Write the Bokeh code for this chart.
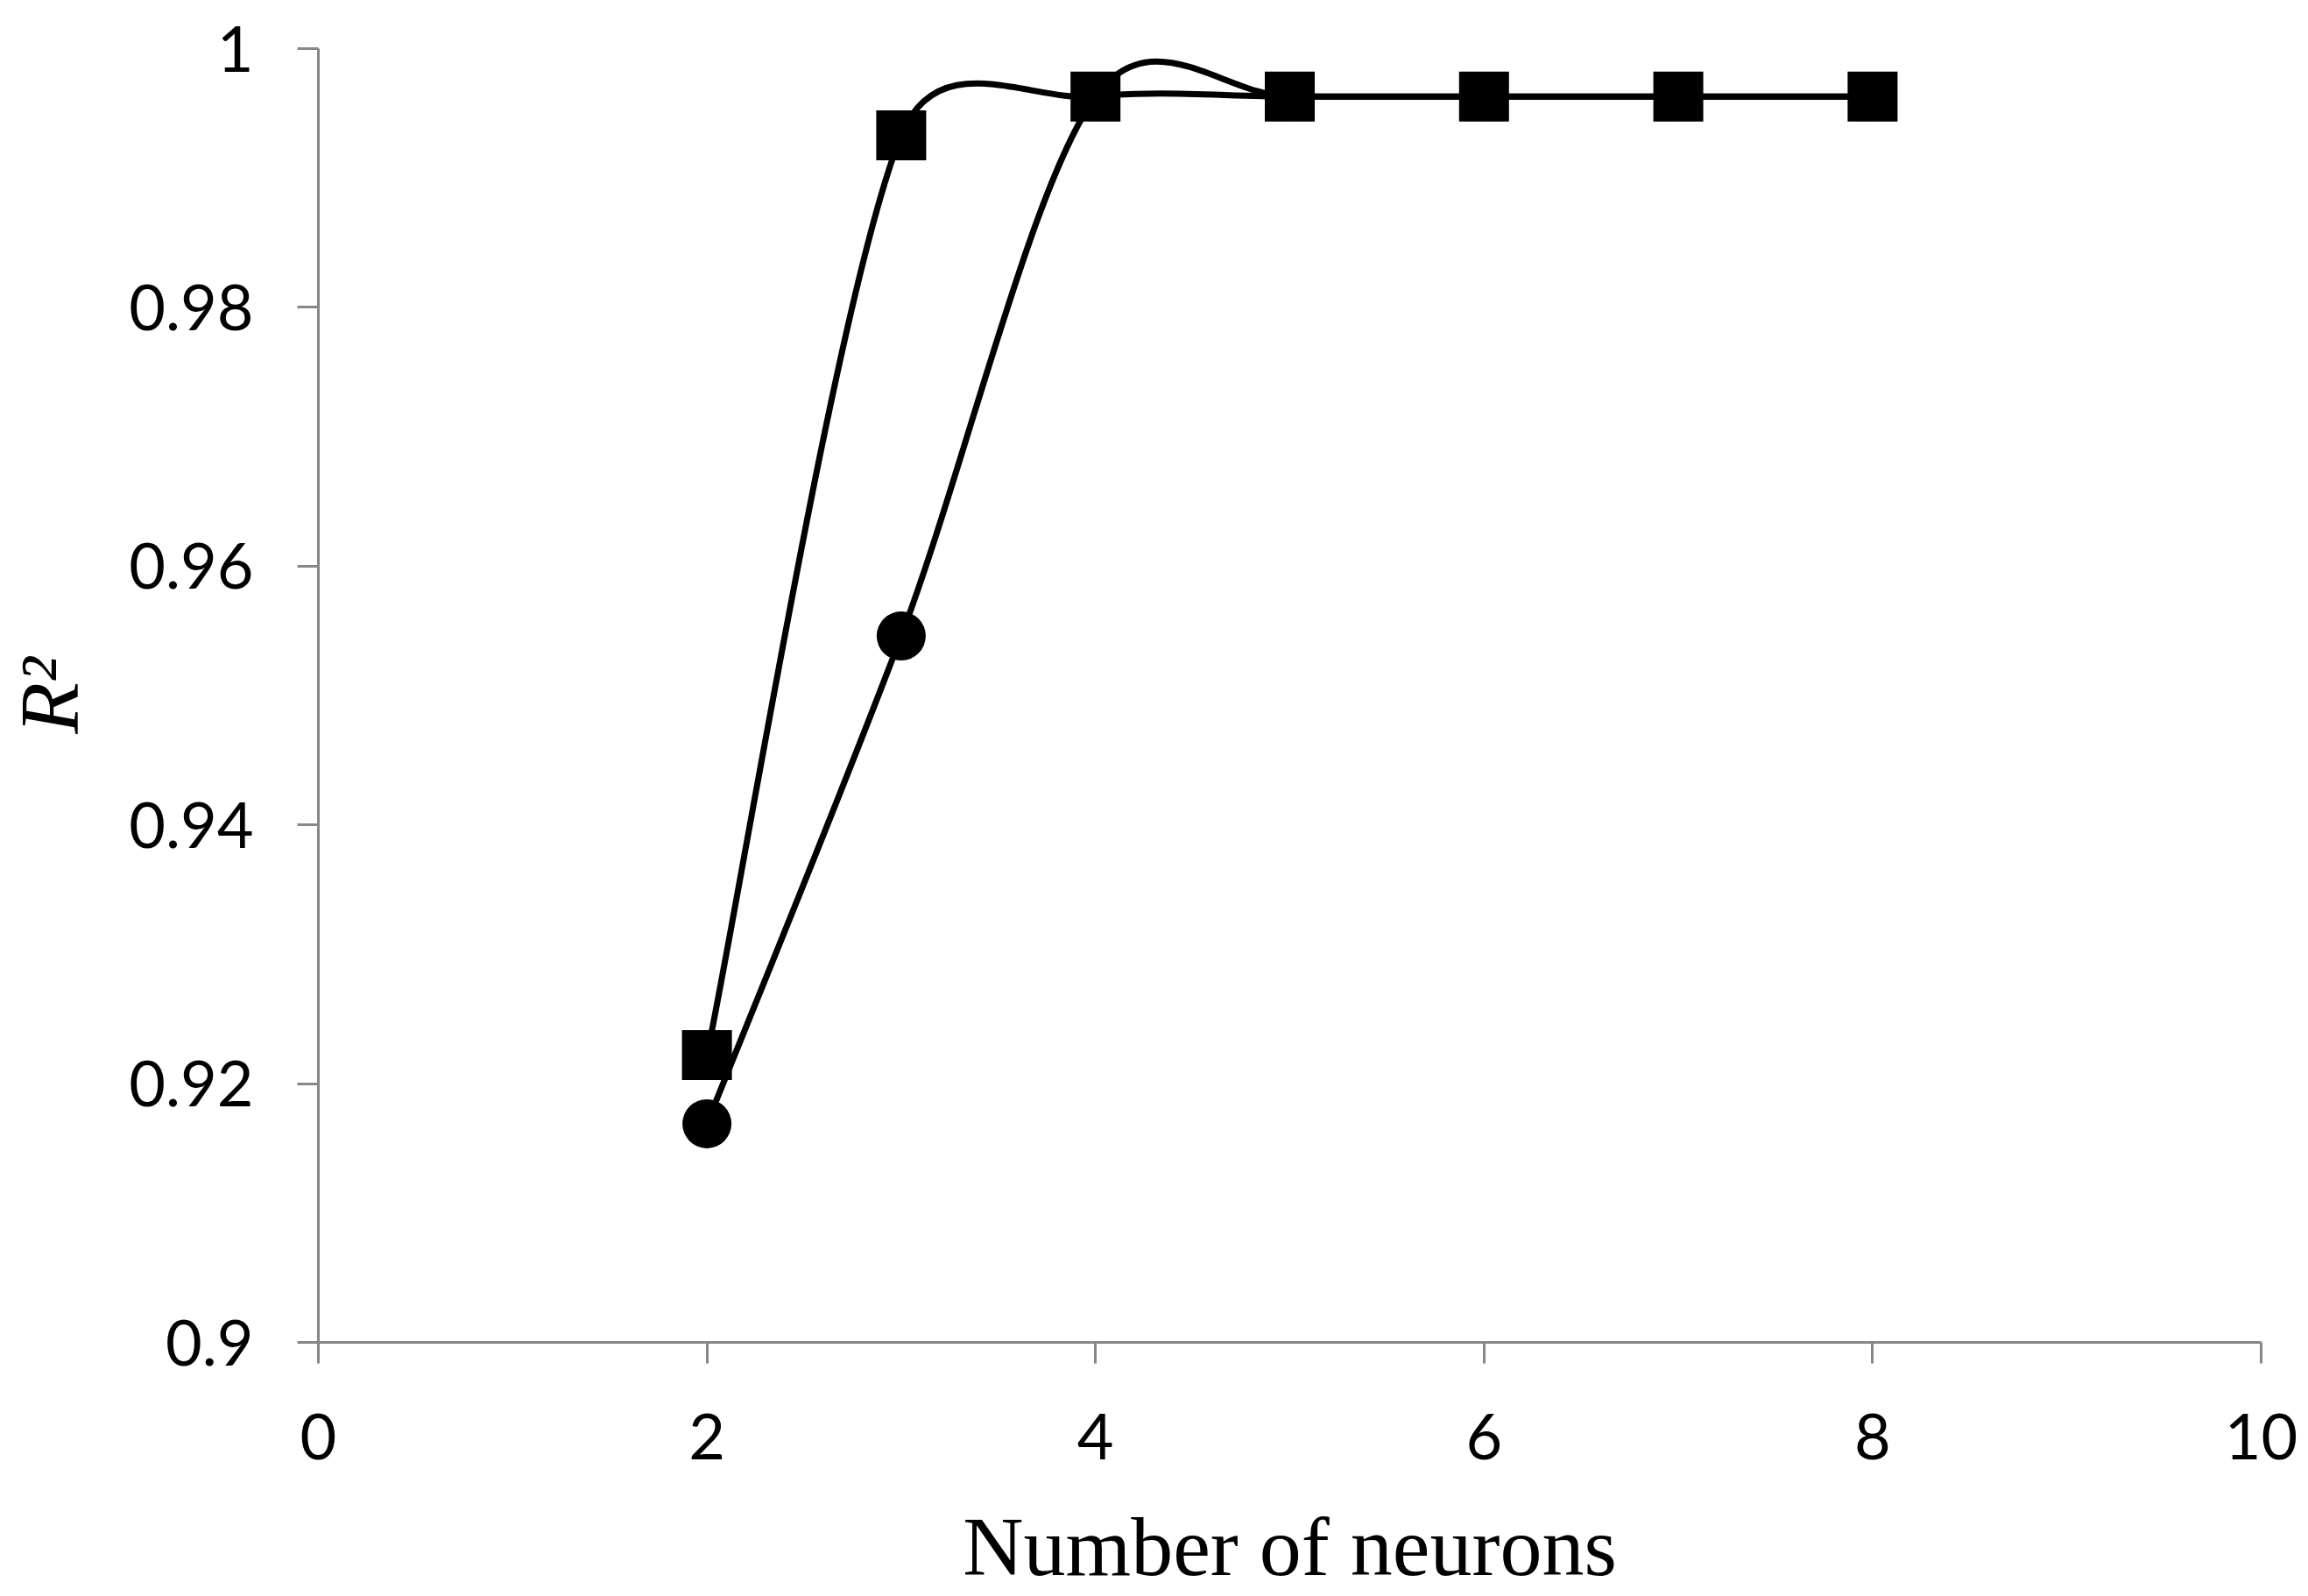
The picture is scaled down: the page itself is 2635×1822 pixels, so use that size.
import math
from bokeh.plotting import figure
from bokeh.models import Range1d, FixedTicker, NumeralTickFormatter
from bokeh.embed import file_html
from bokeh.resources import INLINE

# ---- data ----
neurons = [2, 3, 4, 5, 6, 7, 8]
r2_circles = [0.9169, 0.9546, 0.9963, 0.9963, 0.9963, 0.9963, 0.9963]
r2_squares = [0.9222, 0.9933, 0.9963, 0.9963, 0.9963, 0.9963, 0.9963]
x_ticks = [0, 2, 4, 6, 8, 10]
y_ticks = [0.9, 0.92, 0.94, 0.96, 0.98, 1.0]

X0, X1 = 0, 10
Y0, Y1 = 0.9, 1.0
FW, FH = 2218, 1477

p = figure(
    frame_width=FW, frame_height=FH,
    x_range=Range1d(X0, X1), y_range=Range1d(Y0, Y1),
    output_backend="svg", toolbar_location=None,
    min_border_left=362, min_border_right=55,
    min_border_top=55, min_border_bottom=290,
    background_fill_color="white", border_fill_color="white",
)
p.outline_line_color = None
p.grid.visible = False

AX = "#878787"
for ax in (p.xaxis[0], p.yaxis[0]):
    ax.axis_line_color = AX
    ax.axis_line_width = 3
    ax.major_tick_line_color = AX
    ax.major_tick_line_width = 3
    ax.major_tick_out = 24
    ax.major_tick_in = 0
    ax.minor_tick_line_color = None
    ax.major_label_text_font = "Lato"
    ax.major_label_text_font_size = "72px"
    ax.major_label_text_color = "black"

p.xaxis.ticker = FixedTicker(ticks=x_ticks)
p.yaxis.ticker = FixedTicker(ticks=y_ticks)
p.yaxis.formatter = NumeralTickFormatter(format="0.[00]")
p.xaxis.major_label_standoff = 57
p.yaxis.major_label_standoff = 50

p.xaxis.axis_label = "Number of neurons"
p.xaxis.axis_label_text_font = "Liberation Serif"
p.xaxis.axis_label_text_font_style = "normal"
p.xaxis.axis_label_text_font_size = "96px"
p.xaxis.axis_label_text_color = "black"
p.xaxis.axis_label_standoff = 43

p.yaxis.axis_label = "R²"
p.yaxis.axis_label_text_font = "Liberation Serif"
p.yaxis.axis_label_text_font_style = "italic"
p.yaxis.axis_label_text_font_size = "96px"
p.yaxis.axis_label_text_color = "black"
p.yaxis.axis_label_standoff = 34

# ---- Excel-style smoothed line, computed in screen space ----
sx = FW / (X1 - X0)
sy = FH / (Y1 - Y0)


def smooth_segments(xs, ys):
    pts = [(x * sx, y * sy) for x, y in zip(xs, ys)]
    n = len(pts)
    out = {k: [] for k in ("x0", "y0", "x1", "y1", "cx0", "cy0", "cx1", "cy1")}
    for i in range(n - 1):
        p1, p2 = pts[i], pts[i + 1]
        p0 = pts[i - 1] if i > 0 else p1
        p3 = pts[i + 2] if i + 2 < n else p2
        d02 = math.dist(p0, p2)
        d12 = math.dist(p1, p2)
        d13 = math.dist(p1, p3)
        f1 = min(1 / 6, d12 / (2 * d02)) if d02 > 0 else 0
        f2 = min(1 / 6, d12 / (2 * d13)) if d13 > 0 else 0
        c1 = (p1[0] + f1 * (p2[0] - p0[0]), p1[1] + f1 * (p2[1] - p0[1]))
        c2 = (p2[0] - f2 * (p3[0] - p1[0]), p2[1] - f2 * (p3[1] - p1[1]))
        out["x0"].append(p1[0] / sx); out["y0"].append(p1[1] / sy)
        out["x1"].append(p2[0] / sx); out["y1"].append(p2[1] / sy)
        out["cx0"].append(c1[0] / sx); out["cy0"].append(c1[1] / sy)
        out["cx1"].append(c2[0] / sx); out["cy1"].append(c2[1] / sy)
    return out


LW = 7
seg_c = smooth_segments(neurons, r2_circles)
p.bezier(line_color="black", line_width=LW, **seg_c)
p.scatter(neurons, r2_circles, marker="circle", size=56,
          fill_color="black", line_color="black", line_width=0)

seg_s = smooth_segments(neurons, r2_squares)
p.bezier(line_color="black", line_width=LW, **seg_s)
p.scatter(neurons, r2_squares, marker="square", size=57,
          fill_color="black", line_color="black", line_width=0)

open("out.html", "w").write(file_html(p, INLINE))
